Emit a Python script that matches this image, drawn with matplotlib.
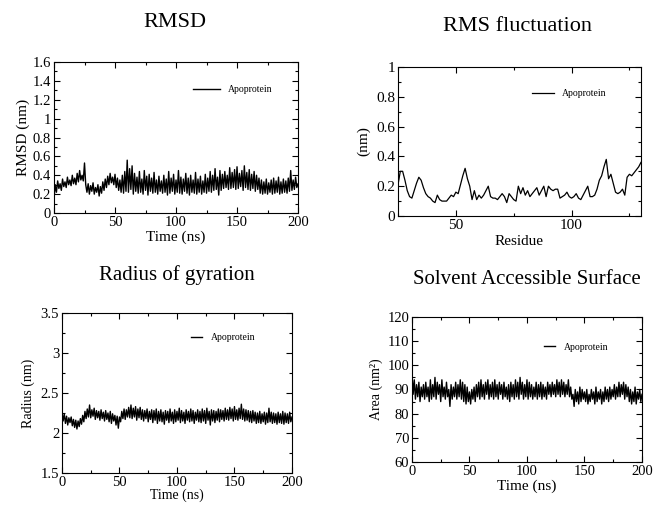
import numpy as np
import matplotlib
matplotlib.use("Agg")
import matplotlib.pyplot as plt
from matplotlib.ticker import MultipleLocator

plt.rcParams['font.family'] = ['Liberation Serif', 'DejaVu Serif']

# RMSD (nm), one value per ns, 0..200
rmsd = [0.15, 0.30, 0.22, 0.34, 0.26, 0.31, 0.24, 0.36, 0.28, 0.33,
        0.27, 0.38, 0.30, 0.35, 0.29, 0.40, 0.31, 0.37, 0.30, 0.42,
        0.33, 0.45, 0.35, 0.40, 0.34, 0.53, 0.30, 0.22, 0.31, 0.20,
        0.29, 0.23, 0.32, 0.20, 0.27, 0.22, 0.30, 0.18, 0.28, 0.21,
        0.33, 0.24, 0.36, 0.27, 0.39, 0.30, 0.42, 0.32, 0.38, 0.30,
        0.41, 0.27, 0.37, 0.24, 0.35, 0.22, 0.40, 0.21, 0.44, 0.23,
        0.56, 0.22, 0.47, 0.25, 0.50, 0.20, 0.42, 0.23, 0.38, 0.21,
        0.44, 0.22, 0.36, 0.20, 0.45, 0.24, 0.39, 0.19, 0.41, 0.23,
        0.37, 0.21, 0.43, 0.22, 0.35, 0.20, 0.39, 0.23, 0.34, 0.21,
        0.40, 0.22, 0.36, 0.19, 0.44, 0.21, 0.37, 0.23, 0.41, 0.20,
        0.35, 0.22, 0.45, 0.21, 0.38, 0.20, 0.36, 0.23, 0.42, 0.21,
        0.37, 0.19, 0.40, 0.22, 0.35, 0.21, 0.43, 0.20, 0.36, 0.22,
        0.39, 0.20, 0.34, 0.22, 0.41, 0.21, 0.37, 0.23, 0.44, 0.22,
        0.40, 0.24, 0.47, 0.25, 0.38, 0.19, 0.45, 0.24, 0.41, 0.26,
        0.44, 0.27, 0.40, 0.25, 0.48, 0.26, 0.43, 0.27, 0.46, 0.25,
        0.49, 0.26, 0.42, 0.28, 0.45, 0.24, 0.50, 0.27, 0.43, 0.25,
        0.46, 0.24, 0.41, 0.26, 0.44, 0.23, 0.40, 0.25, 0.37, 0.21,
        0.35, 0.20, 0.33, 0.21, 0.36, 0.20, 0.32, 0.22, 0.35, 0.20,
        0.37, 0.21, 0.34, 0.22, 0.38, 0.20, 0.33, 0.21, 0.36, 0.22,
        0.34, 0.21, 0.37, 0.23, 0.45, 0.24, 0.35, 0.25, 0.38, 0.27,
        0.31]

# RMS fluctuation (nm) per residue 25..130
residues = list(range(25, 131))
rmsf = [0.21, 0.30, 0.30, 0.24, 0.17, 0.13, 0.12, 0.17, 0.22, 0.26,
        0.24, 0.19, 0.15, 0.13, 0.12, 0.10, 0.09, 0.14, 0.11, 0.10,
        0.10, 0.10, 0.12, 0.14, 0.13, 0.16, 0.15, 0.21, 0.27, 0.32,
        0.25, 0.20, 0.11, 0.17, 0.11, 0.14, 0.12, 0.14, 0.17, 0.20,
        0.13, 0.12, 0.12, 0.11, 0.13, 0.15, 0.13, 0.09, 0.15, 0.13,
        0.11, 0.10, 0.20, 0.15, 0.19, 0.14, 0.17, 0.13, 0.15, 0.17,
        0.19, 0.14, 0.17, 0.20, 0.13, 0.20, 0.18, 0.17, 0.18, 0.18,
        0.12, 0.13, 0.14, 0.16, 0.13, 0.12, 0.13, 0.15, 0.12, 0.11,
        0.14, 0.17, 0.20, 0.13, 0.13, 0.14, 0.18, 0.24, 0.27, 0.33,
        0.38, 0.25, 0.28, 0.22, 0.16, 0.15, 0.16, 0.18, 0.14, 0.26,
        0.28, 0.27, 0.29, 0.31, 0.33, 0.36]

# Radius of gyration (nm), one value per ns
rg = [2.26, 2.15, 2.24, 2.12, 2.21, 2.10, 2.19, 2.13, 2.20, 2.09,
      2.17, 2.07, 2.16, 2.05, 2.15, 2.08, 2.18, 2.11, 2.22, 2.14,
      2.27, 2.18, 2.30, 2.20, 2.35, 2.19, 2.29, 2.21, 2.31, 2.17,
      2.28, 2.19, 2.27, 2.16, 2.29, 2.18, 2.26, 2.15, 2.28, 2.17,
      2.25, 2.14, 2.27, 2.12, 2.24, 2.15, 2.22, 2.10, 2.21, 2.06,
      2.20, 2.14, 2.27, 2.18, 2.30, 2.17, 2.29, 2.20, 2.32, 2.19,
      2.35, 2.18, 2.31, 2.20, 2.33, 2.16, 2.30, 2.19, 2.32, 2.17,
      2.29, 2.15, 2.28, 2.18, 2.30, 2.14, 2.27, 2.17, 2.29, 2.13,
      2.28, 2.16, 2.30, 2.12, 2.27, 2.15, 2.29, 2.14, 2.26, 2.11,
      2.28, 2.16, 2.27, 2.13, 2.30, 2.15, 2.26, 2.12, 2.29, 2.14,
      2.27, 2.16, 2.31, 2.13, 2.28, 2.15, 2.26, 2.12, 2.29, 2.16,
      2.27, 2.14, 2.30, 2.15, 2.28, 2.12, 2.26, 2.16, 2.29, 2.14,
      2.27, 2.13, 2.30, 2.15, 2.28, 2.12, 2.31, 2.16, 2.27, 2.10,
      2.29, 2.15, 2.28, 2.13, 2.27, 2.16, 2.30, 2.14, 2.29, 2.17,
      2.28, 2.15, 2.31, 2.17, 2.29, 2.16, 2.32, 2.18, 2.30, 2.15,
      2.33, 2.17, 2.29, 2.16, 2.31, 2.18, 2.36, 2.17, 2.30, 2.15,
      2.29, 2.16, 2.28, 2.14, 2.27, 2.13, 2.28, 2.15, 2.26, 2.12,
      2.25, 2.13, 2.27, 2.12, 2.24, 2.14, 2.26, 2.11, 2.25, 2.13,
      2.31, 2.14, 2.26, 2.12, 2.25, 2.13, 2.24, 2.11, 2.26, 2.13,
      2.24, 2.12, 2.27, 2.11, 2.25, 2.13, 2.24, 2.12, 2.26, 2.14,
      2.20]

# Solvent accessible surface area (nm^2), one value per ns
sasa = [97, 88, 94, 86, 92, 87, 93, 85, 91, 87,
        92, 86, 93, 87, 91, 85, 94, 86, 92, 87,
        95, 86, 93, 88, 92, 85, 94, 87, 91, 86,
        93, 87, 90, 83, 92, 86, 91, 87, 93, 86,
        92, 87, 94, 86, 93, 85, 92, 84, 91, 85,
        89, 84, 90, 86, 91, 85, 92, 87, 93, 86,
        94, 87, 92, 86, 93, 88, 94, 86, 92, 87,
        93, 86, 94, 87, 92, 86, 93, 88, 92, 86,
        93, 87, 91, 86, 92, 85, 93, 87, 92, 86,
        94, 87, 93, 86, 95, 88, 93, 86, 92, 87,
        94, 86, 93, 87, 92, 86, 91, 87, 93, 86,
        92, 87, 93, 86, 92, 87, 91, 86, 93, 88,
        92, 87, 93, 88, 92, 87, 94, 88, 93, 87,
        94, 88, 93, 87, 92, 88, 94, 87, 91, 86,
        88, 83, 90, 85, 89, 84, 91, 85, 90, 86,
        89, 85, 90, 84, 88, 85, 90, 86, 89, 84,
        91, 85, 89, 86, 90, 84, 89, 85, 91, 86,
        90, 85, 91, 86, 90, 87, 92, 86, 91, 87,
        93, 87, 92, 88, 93, 86, 92, 87, 91, 85,
        90, 84, 89, 85, 91, 84, 89, 86, 90, 85,
        88]

time_rmsd = np.arange(len(rmsd))
time_rg = np.arange(len(rg))
time_sasa = np.arange(len(sasa))


def style(ax, xmaj, xmin, ymaj, ymin, fs):
    ax.xaxis.set_major_locator(MultipleLocator(xmaj))
    ax.xaxis.set_minor_locator(MultipleLocator(xmin))
    ax.yaxis.set_major_locator(MultipleLocator(ymaj))
    ax.yaxis.set_minor_locator(MultipleLocator(ymin))
    ax.tick_params(which='both', direction='in', top=True, right=True,
                   labelsize=fs, width=0.8, pad=2)
    ax.tick_params(which='major', length=4)
    ax.tick_params(which='minor', length=2.5)
    for s in ax.spines.values():
        s.set_linewidth(0.8)


fig = plt.figure(figsize=(6.53, 5.08), dpi=100)

# RMSD
ax1 = fig.add_axes([0.0827, 0.5807, 0.3737, 0.2972])
ax1.plot(time_rmsd, rmsd, color='black', lw=1.0, label='Apoprotein')
ax1.set_xlim(0, 200)
ax1.set_ylim(0, 1.6)
style(ax1, 50, 25, 0.2, 0.1, 10.5)
ax1.set_yticks(np.arange(0, 1.61, 0.2))
ax1.set_yticklabels(['0', '0.2', '0.4', '0.6', '0.8', '1', '1.2', '1.4', '1.6'])
ax1.set_xlabel('Time (ns)', fontsize=11, labelpad=1)
ax1.set_ylabel('RMSD (nm)', fontsize=11, labelpad=2)
ax1.legend(loc='center left', bbox_to_anchor=(0.55, 0.815), frameon=False,
           fontsize=7, handlelength=2.8, borderpad=0, handletextpad=0.8)
fig.text(0.268, 0.955, 'RMSD', ha='center', va='center', fontsize=16)

# RMS fluctuation
ax2 = fig.add_axes([0.6095, 0.5748, 0.3721, 0.2933])
ax2.plot(residues, rmsf, color='black', lw=0.9, label='Apoprotein')
ax2.set_xlim(25, 130)
ax2.set_ylim(0, 1)
style(ax2, 50, 25, 0.2, 0.1, 11)
ax2.set_yticks(np.arange(0, 1.01, 0.2))
ax2.set_yticklabels(['0', '0.2', '0.4', '0.6', '0.8', '1'])
ax2.set_xticks([50, 100])
ax2.set_xlabel('Residue', fontsize=11, labelpad=2)
ax2.set_ylabel('(nm)', fontsize=11, labelpad=4)
ax2.legend(loc='center left', bbox_to_anchor=(0.53, 0.82), frameon=False,
           fontsize=7, handlelength=2.3, borderpad=0, handletextpad=0.8)
fig.text(0.793, 0.947, 'RMS fluctuation', ha='center', va='center', fontsize=16)

# Radius of gyration
ax3 = fig.add_axes([0.0949, 0.0689, 0.3522, 0.315])
ax3.plot(time_rg, rg, color='black', lw=1.0, label='Apoprotein')
ax3.set_xlim(0, 200)
ax3.set_ylim(1.5, 3.5)
style(ax3, 50, 25, 0.5, 0.25, 10.5)
ax3.set_yticks([1.5, 2, 2.5, 3, 3.5])
ax3.set_yticklabels(['1.5', '2', '2.5', '3', '3.5'])
ax3.set_xlabel('Time (ns)', fontsize=10, labelpad=0)
ax3.set_ylabel('Radius (nm)', fontsize=10, labelpad=4)
ax3.legend(loc='center left', bbox_to_anchor=(0.54, 0.844), frameon=False,
           fontsize=7, handlelength=1.1, borderpad=0, handletextpad=0.9)
fig.text(0.271, 0.459, 'Radius of gyration', ha='center', va='center', fontsize=15)

# SASA
ax4 = fig.add_axes([0.6309, 0.0906, 0.3522, 0.2854])
ax4.plot(time_sasa, sasa, color='black', lw=1.0, label='Apoprotein')
ax4.set_xlim(0, 200)
ax4.set_ylim(60, 120)
style(ax4, 50, 25, 10, 5, 10.5)
ax4.set_xlabel('Time (ns)', fontsize=11, labelpad=1)
ax4.set_ylabel('Area (nm\u00b2)', fontsize=10, labelpad=3)
ax4.legend(loc='center left', bbox_to_anchor=(0.555, 0.793), frameon=False,
           fontsize=7, handlelength=1.1, borderpad=0, handletextpad=0.9)
fig.text(0.807, 0.449, 'Solvent Accessible Surface', ha='center', va='center', fontsize=15)

fig.savefig('out.png', dpi=100)
